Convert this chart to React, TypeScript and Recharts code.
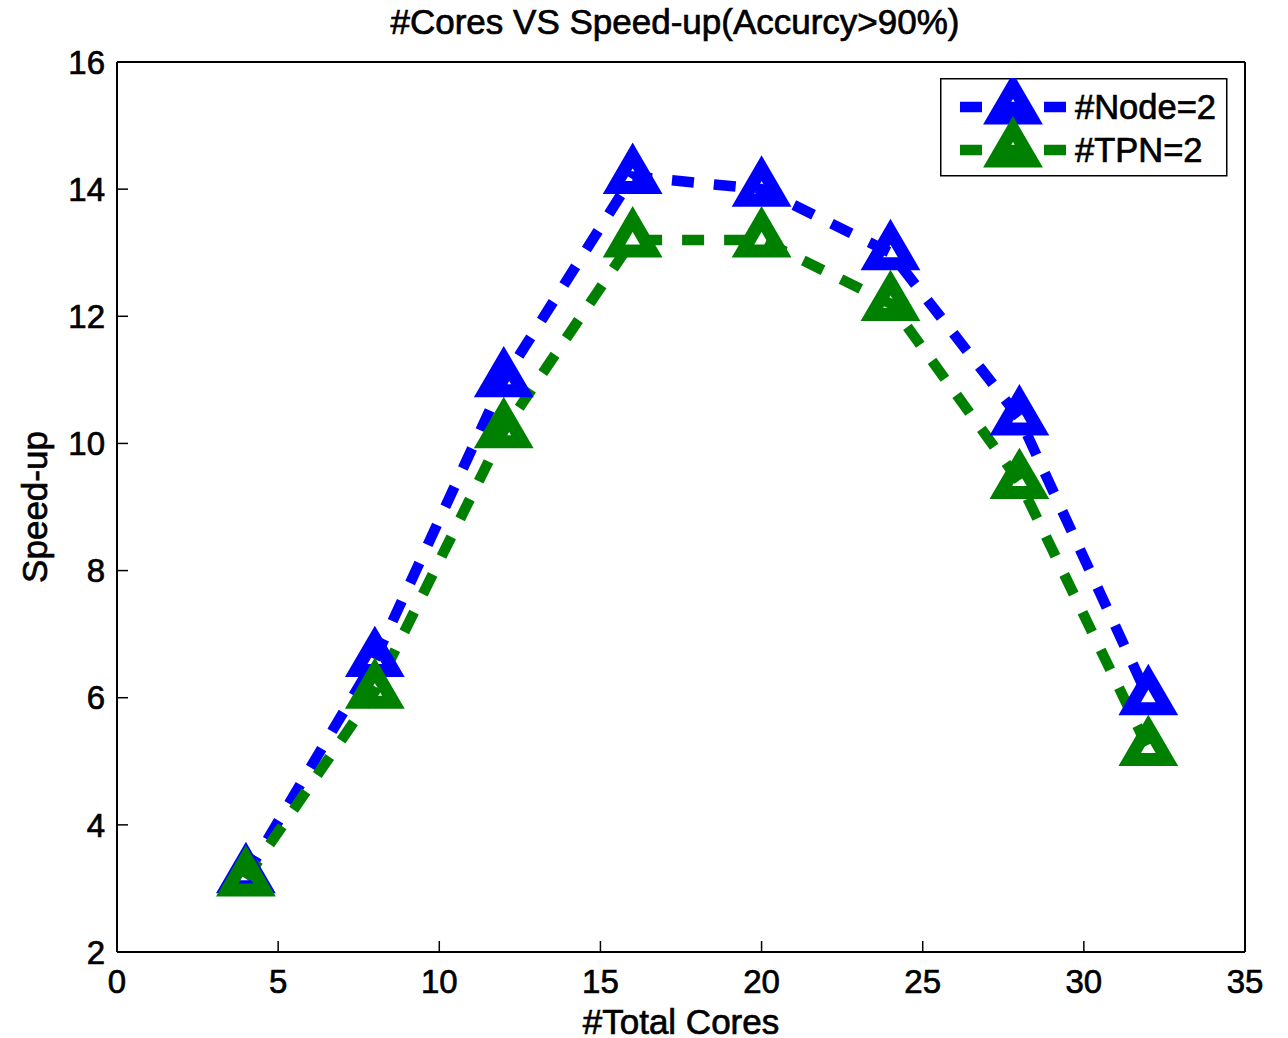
import React from 'react';
import { LineChart, Line, XAxis, YAxis, Legend } from 'recharts';

// Total core counts on the x axis
const cores = [4, 8, 12, 16, 20, 24, 28, 32];
// Speed-up with two nodes
const nodeSpeedup = [3.2, 6.6, 11.0, 14.2, 14.0, 13.0, 10.4, 6.0];
// Speed-up with two threads per node
const tpnSpeedup = [3.15, 6.1, 10.2, 13.2, 13.2, 12.2, 9.4, 5.2];

const xTicks = [0, 5, 10, 15, 20, 25, 30, 35];
const yTicks = [2, 4, 6, 8, 10, 12, 14, 16];

const seriesNames = ['#Node=2', '#TPN=2'];
const seriesColors = ['#0000ff', '#008000'];

const data = cores.map((c, i) => ({ x: c, node: nodeSpeedup[i], tpn: tpnSpeedup[i] }));

const FONT = '"Liberation Sans", Arial, Helvetica, sans-serif';
const DASH = '22 20';
const LINE_W = 10.5;
const MARKER_W = 13;

// Hollow upward triangle centred on its centroid
const trianglePath = (cx: number, cy: number) =>
  `M${cx},${cy - 21} L${cx + 18.6},${cy + 11} L${cx - 18.6},${cy + 11} Z`;

const makeDot = (color: string) => (props: any) => {
  const { cx, cy, index } = props;
  if (cx == null || cy == null) return <g key={`d-${index}`} />;
  return (
    <path
      key={`d-${color}-${index}`}
      d={trianglePath(cx, cy)}
      fill="none"
      stroke={color}
      strokeWidth={MARKER_W}
      strokeLinejoin="miter"
    />
  );
};

const LegendBox = () => {
  const rows = [29, 72];
  return (
    <svg width={288} height={100} style={{ display: 'block' }}>
      <rect x={0.75} y={0.75} width={286} height={97} fill="#fff" stroke="#000" strokeWidth={1.5} />
      {seriesNames.map((name, i) => (
        <g key={name}>
          <line
            x1={20}
            x2={126}
            y1={rows[i]}
            y2={rows[i]}
            stroke={seriesColors[i]}
            strokeWidth={LINE_W}
            strokeDasharray={DASH}
          />
          <path d={trianglePath(73, rows[i])} fill="none" stroke={seriesColors[i]} strokeWidth={MARKER_W} />
          <text
            x={135}
            y={rows[i] + 12}
            fontFamily={FONT}
            fontSize={34.5}
            fill="#000"
            stroke="#000"
            strokeWidth={0.7}
          >
            {name}
          </text>
        </g>
      ))}
    </svg>
  );
};

export default function App() {
  const tickStyle = { fontFamily: FONT, fontSize: 33, fill: '#000', stroke: '#000', strokeWidth: 0.7 };
  const axisLine = { stroke: '#000', strokeWidth: 2 };
  const tickLine = { stroke: '#000', strokeWidth: 1.5 };
  const labelStyle = { fontFamily: FONT, fontSize: 35, fill: '#000', stroke: '#000', strokeWidth: 0.7 };
  return (
    <div style={{ position: 'absolute', left: 0, top: 0, background: '#fff' }}>
      <LineChart
        width={1288}
        height={1038}
        data={data}
        margin={{ top: 61, right: 42, bottom: 85, left: 116 }}
      >
        <XAxis
          xAxisId="b"
          type="number"
          dataKey="x"
          domain={[0, 35]}
          ticks={xTicks}
          height={1}
          tickSize={-11}
          tickMargin={29}
          tick={tickStyle}
          axisLine={axisLine}
          tickLine={tickLine}
          label={{ value: '#Total Cores', position: 'bottom', offset: 56, style: labelStyle }}
        />
        <XAxis
          xAxisId="t"
          orientation="top"
          type="number"
          dataKey="x"
          domain={[0, 35]}
          ticks={xTicks}
          height={1}
          tickSize={-11}
          tick={false}
          axisLine={axisLine}
          tickLine={tickLine}
          label={{
            value: '#Cores VS Speed-up(Accurcy>90%)',
            position: 'top',
            offset: 27,
            dx: -6,
            style: labelStyle,
          }}
        />
        <YAxis
          yAxisId="l"
          type="number"
          domain={[2, 16]}
          ticks={yTicks}
          width={1}
          tickSize={-11}
          tickMargin={23}
          tick={tickStyle}
          axisLine={axisLine}
          tickLine={tickLine}
          label={{
            value: 'Speed-up',
            position: 'left',
            angle: -90,
            offset: 81,
            textAnchor: 'middle',
            style: labelStyle,
          }}
        />
        <YAxis
          yAxisId="r"
          orientation="right"
          type="number"
          domain={[2, 16]}
          ticks={yTicks}
          width={1}
          tickSize={-11}
          tick={false}
          axisLine={axisLine}
          tickLine={tickLine}
        />
        <Line
          xAxisId="b"
          yAxisId="l"
          type="linear"
          dataKey="node"
          name={seriesNames[0]}
          stroke={seriesColors[0]}
          strokeWidth={LINE_W}
          strokeDasharray={DASH}
          dot={makeDot(seriesColors[0])}
          activeDot={false}
          isAnimationActive={false}
        />
        <Line
          xAxisId="b"
          yAxisId="l"
          type="linear"
          dataKey="tpn"
          name={seriesNames[1]}
          stroke={seriesColors[1]}
          strokeWidth={LINE_W}
          strokeDasharray={DASH}
          dot={makeDot(seriesColors[1])}
          activeDot={false}
          isAnimationActive={false}
        />
        <Legend
          layout="vertical"
          align="center"
          verticalAlign="middle"
          content={() => <LegendBox />}
          wrapperStyle={{ left: 940, top: 78, width: 288, height: 100 }}
        />
      </LineChart>
    </div>
  );
}
